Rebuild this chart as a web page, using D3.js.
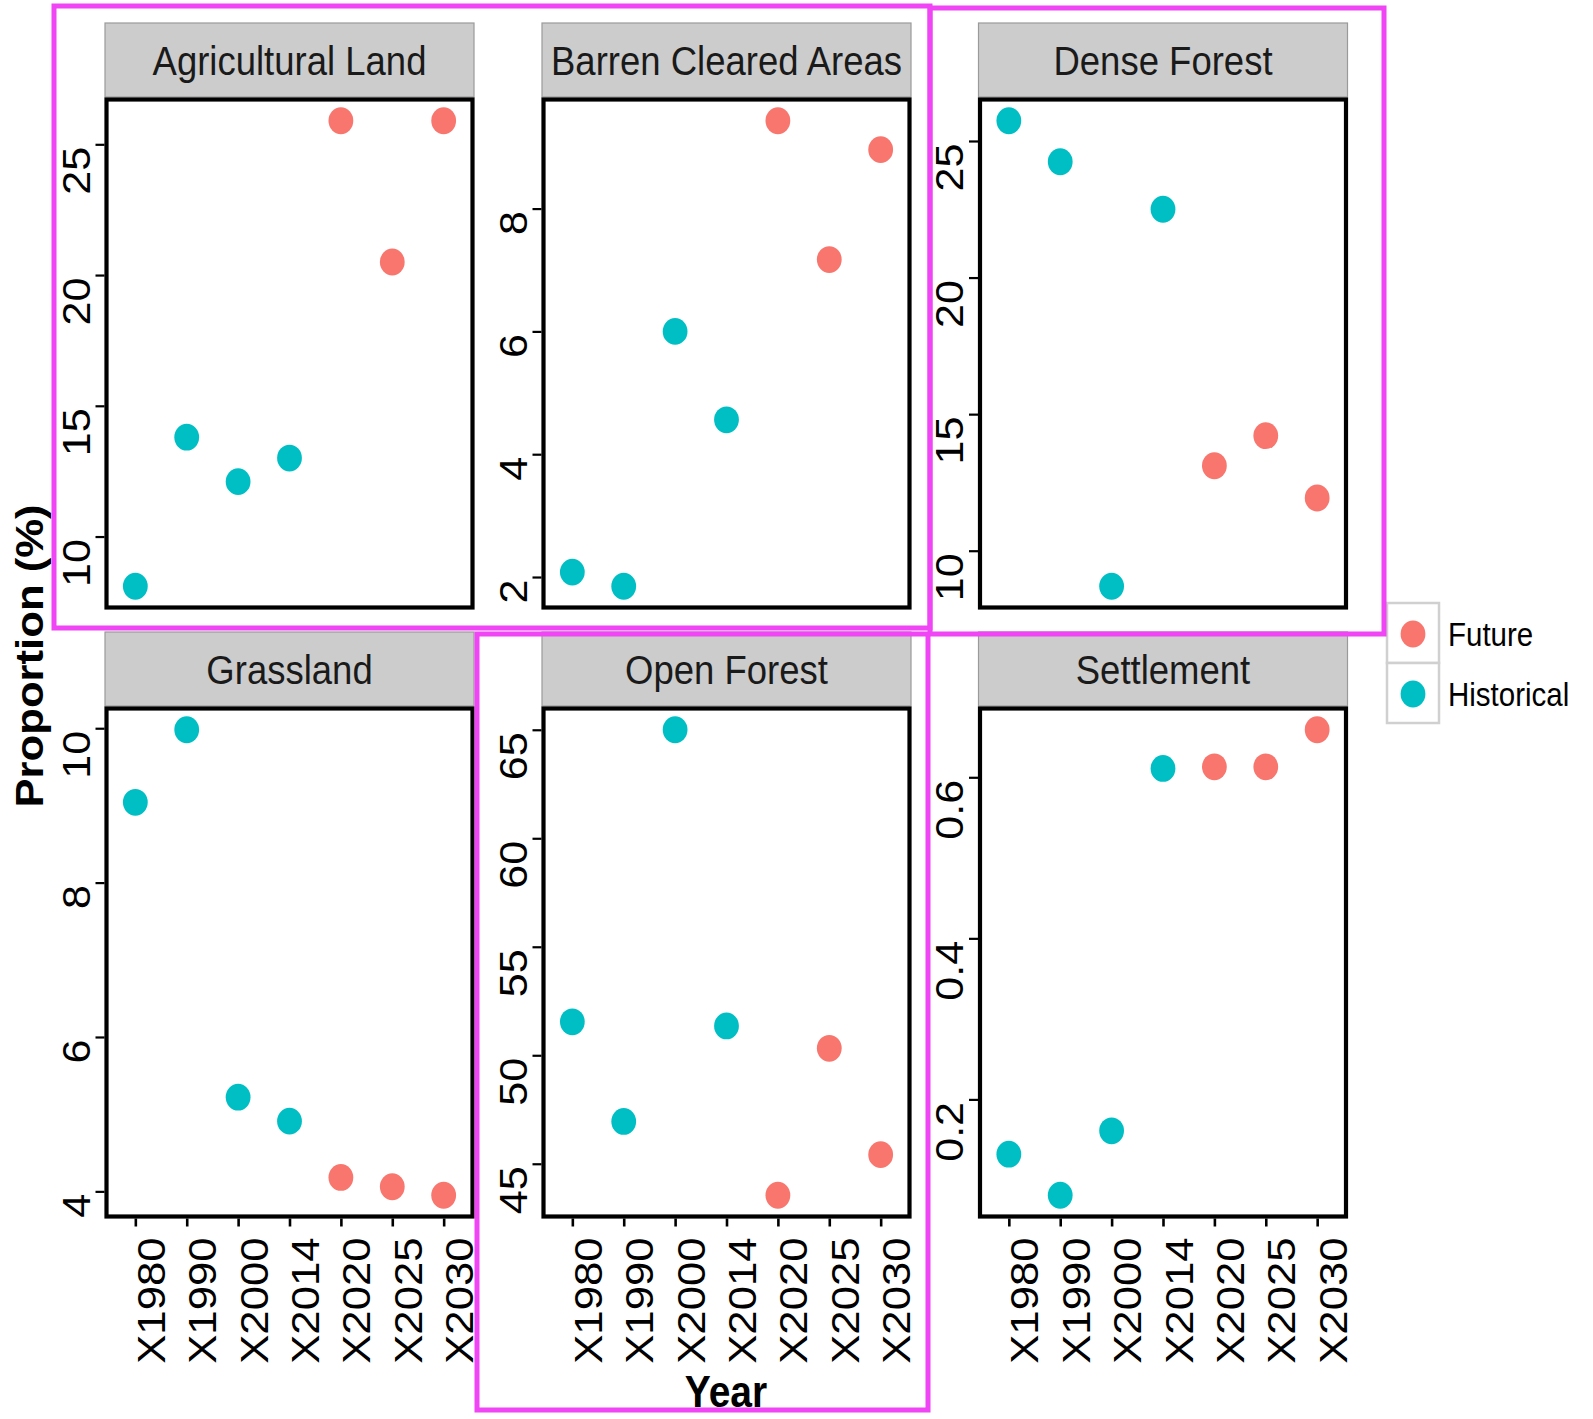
<!DOCTYPE html>
<html>
<head>
<meta charset="utf-8">
<script src="https://cdnjs.cloudflare.com/ajax/libs/d3/7.8.5/d3.min.js"></script>
<style>
  body { margin: 0; background: #fff; }
  svg { display: block; font-family: "Liberation Sans", Arial, Helvetica, sans-serif; }
</style>
</head>
<body>
<div id="chart"></div>
<script>
// categories
var years = ['X1980', 'X1990', 'X2000', 'X2014', 'X2020', 'X2025', 'X2030'];
var period = ['Historical', 'Historical', 'Historical', 'Historical', 'Future', 'Future', 'Future'];
var classes = ['Agricultural Land', 'Barren Cleared Areas', 'Dense Forest', 'Grassland', 'Open Forest', 'Settlement'];

// proportion (%) per class, one value per year
var agricultural = [8.1, 13.8, 12.1, 13.0, 25.9, 20.5, 25.9];
var barren = [2.08, 1.85, 6.0, 4.56, 9.43, 7.17, 8.96];
var denseForest = [25.74, 24.24, 8.70, 22.5, 13.11, 14.21, 11.93];
var grassland = [9.04, 9.98, 5.22, 4.91, 4.18, 4.06, 3.95];
var openForest = [51.54, 46.95, 65.0, 51.35, 43.55, 50.32, 45.42];
var settlement = [0.132, 0.081, 0.161, 0.611, 0.613, 0.613, 0.659];

// y tick labels per panel
var agriculturalTicks = [10, 15, 20, 25];
var barrenTicks = [2, 4, 6, 8];
var denseForestTicks = [10, 15, 20, 25];
var grasslandTicks = [4, 6, 8, 10];
var openForestTicks = [45, 50, 55, 60, 65];
var settlementTicks = [0.2, 0.4, 0.6];

var legendKeys = ['Future', 'Historical'];

var seriesList = [agricultural, barren, denseForest, grassland, openForest, settlement];
var tickList = [agriculturalTicks, barrenTicks, denseForestTicks, grasslandTicks, openForestTicks, settlementTicks];

var color = d3.scaleOrdinal().domain(['Future', 'Historical']).range(['#F8766D', '#00BFC4']);

// the picture is a little taller than wide, so text gets stretched in y
var SY = 1.12;

var W = 1593, H = 1419;
var colLeft = [104.5, 541.5, 978];
var rowTop = [22.5, 631.5];
var panelW = 370, stripH = 75, panelH = 512;

var svg = d3.select('#chart').append('svg')
    .attr('width', W)
    .attr('height', H);

classes.forEach(function(name, i) {
  var col = i % 3, row = Math.floor(i / 3);
  var left = colLeft[col];
  var stripTop = rowTop[row];
  var top = stripTop + stripH;
  var bottom = top + panelH;
  var values = seriesList[i];

  var g = svg.append('g');

  // strip
  g.append('rect')
      .attr('x', left + 0.5).attr('y', stripTop + 0.5)
      .attr('width', panelW - 1).attr('height', stripH - 1)
      .attr('fill', '#cccccc')
      .attr('stroke', '#9a9a9a')
      .attr('stroke-width', 1.2);

  var capH = 0.716 * 36.5 * SY;
  g.append('text')
      .attr('transform', 'translate(' + (left + panelW / 2) + ',' + (stripTop + stripH / 2 + capH / 2) + ') scale(1,' + SY + ')')
      .attr('text-anchor', 'middle')
      .attr('font-size', 36.5)
      .attr('fill', '#1a1a1a')
      .text(name);

  // scales
  var x = d3.scalePoint().domain(years).range([left, left + panelW]).padding(0.6);
  var ext = d3.extent(values);
  var pad = (ext[1] - ext[0]) * 0.05;
  var y = d3.scaleLinear().domain([ext[0] - pad, ext[1] + pad]).range([bottom, top]);

  // y axis
  var yAxis = g.append('g')
      .attr('transform', 'translate(' + left + ',0)')
      .call(d3.axisLeft(y).tickValues(tickList[i]).tickSize(9).tickFormat(d3.format('~g')));
  yAxis.select('.domain').remove();
  yAxis.attr('font-size', null).attr('font-family', null);
  yAxis.selectAll('.tick line').attr('stroke', '#000').attr('stroke-width', 2.2);
  yAxis.selectAll('.tick text')
      .attr('x', null).attr('dy', null)
      .attr('text-anchor', 'end')
      .attr('fill', '#000')
      .attr('font-size', 38.5)
      .attr('transform', 'translate(-15,2) scale(1,' + SY + ') rotate(-90)');

  // x axis only under the bottom row
  if (row === 1) {
    var xAxis = g.append('g')
        .attr('transform', 'translate(0,' + bottom + ')')
        .call(d3.axisBottom(x).tickSize(8));
    xAxis.select('.domain').remove();
    xAxis.attr('font-size', null).attr('font-family', null);
    xAxis.selectAll('.tick line').attr('stroke', '#000').attr('stroke-width', 2.6);
    xAxis.selectAll('.tick text')
        .attr('y', null).attr('dy', null)
        .attr('text-anchor', 'end')
        .attr('fill', '#000')
        .attr('font-size', 39)
        .attr('transform', 'translate(29,19) scale(1,' + SY + ') rotate(-90)');
  }

  // points
  g.selectAll('ellipse.pt')
      .data(values)
      .enter().append('ellipse')
      .attr('class', 'pt')
      .attr('cx', function(d, j) { return x(years[j]); })
      .attr('cy', function(d) { return y(d); })
      .attr('rx', 12.4)
      .attr('ry', 13.4)
      .attr('fill', function(d, j) { return color(period[j]); });

  // panel border
  g.append('rect')
      .attr('x', left + 2).attr('y', top + 2)
      .attr('width', panelW - 4).attr('height', panelH - 4)
      .attr('fill', 'none')
      .attr('stroke', '#000')
      .attr('stroke-width', 4.2);
});

// axis titles
svg.append('text')
    .attr('transform', 'translate(42.7,656) scale(1,' + SY + ') rotate(-90)')
    .attr('text-anchor', 'middle')
    .attr('font-size', 39)
    .attr('font-weight', 'bold')
    .text('Proportion (%)');

svg.append('text')
    .attr('transform', 'translate(726,1407) scale(1,' + SY + ')')
    .attr('text-anchor', 'middle')
    .attr('font-size', 39)
    .attr('font-weight', 'bold')
    .text('Year');

// legend
var legend = svg.append('g').attr('transform', 'translate(1387,603)');
var keyH = 60;
legendKeys.forEach(function(k, i) {
  legend.append('rect')
      .attr('x', 0).attr('y', i * keyH)
      .attr('width', 52).attr('height', keyH)
      .attr('fill', '#fff')
      .attr('stroke', '#d0d0d0')
      .attr('stroke-width', 2.5);
  legend.append('ellipse')
      .attr('cx', 26).attr('cy', i * keyH + 31)
      .attr('rx', 12.4).attr('ry', 13.4)
      .attr('fill', color(k));
  legend.append('text')
      .attr('transform', 'translate(61,' + (i * keyH + 31 + 0.716 * 29.5 * SY / 2) + ') scale(1,' + SY + ')')
      .attr('font-size', 29.5)
      .attr('fill', '#000')
      .text(k);
});

// highlight boxes drawn over the figure
var boxes = [
  {x0: 54, y0: 6, x1: 930, y1: 628},
  {x0: 930, y0: 8, x1: 1384, y1: 634},
  {x0: 477, y0: 634, x1: 928, y1: 1410}
];
svg.selectAll('rect.box')
    .data(boxes)
    .enter().append('rect')
    .attr('class', 'box')
    .attr('x', function(d) { return d.x0; })
    .attr('y', function(d) { return d.y0; })
    .attr('width', function(d) { return d.x1 - d.x0; })
    .attr('height', function(d) { return d.y1 - d.y0; })
    .attr('fill', 'none')
    .attr('stroke', '#ef45f5')
    .attr('stroke-width', 5);
</script>
</body>
</html>
